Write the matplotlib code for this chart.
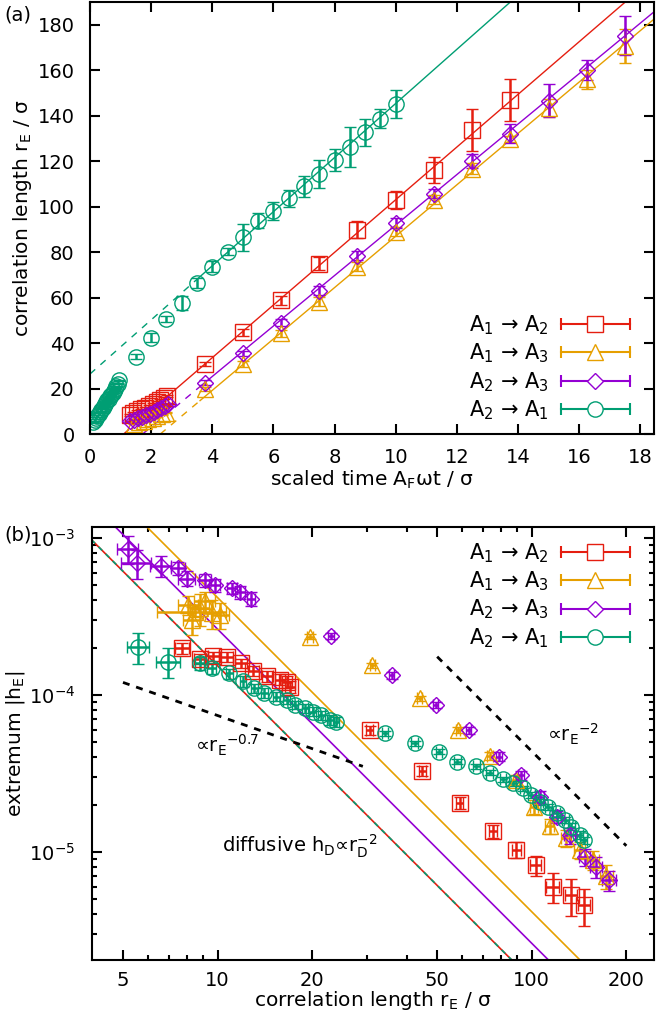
import numpy as np
import matplotlib
matplotlib.use('Agg')
import matplotlib.pyplot as plt
from matplotlib.lines import Line2D
from matplotlib.legend_handler import HandlerBase
from matplotlib.ticker import FixedLocator, FixedFormatter, LogLocator, NullFormatter

plt.rcParams['font.family'] = ['DejaVu Sans']
plt.rcParams['mathtext.default'] = 'regular'
plt.rcParams['axes.unicode_minus'] = False
plt.rcParams['font.size'] = 14
plt.rcParams['axes.linewidth'] = 1.5

RED, ORANGE, PURPLE, GREEN = '#e51e10', '#e69f00', '#9400d3', '#009e73'
labels = ['A$_1$ → A$_2$', 'A$_1$ → A$_3$', 'A$_2$ → A$_3$', 'A$_2$ → A$_1$']
colors = [RED, ORANGE, PURPLE, GREEN]
markers = ['s', '^', 'D', 'o']
msizes = [11, 11, 8, 11]

# --- (a) correlation length vs scaled time ---
t_red = [1.30, 1.42, 1.55, 1.68, 1.80, 1.93, 2.05, 2.18, 2.30, 2.42, 2.52,
         3.75, 5.0, 6.25, 7.5, 8.75, 10.0, 11.25, 12.5, 13.75]
r_red = [8.4, 9.3, 10.0, 10.8, 11.6, 12.3, 13.2, 14.0, 14.8, 15.9, 16.8,
         30.8, 44.8, 58.9, 75.0, 89.9, 103.0, 116.2, 133.8, 146.9]
dr_red = [0.4] * 11 + [1.0, 1.5, 2.0, 3.0, 3.9, 4.0, 5.8, 9.1, 9.1]

t_ora = [1.45, 1.60, 1.75, 1.90, 2.05, 2.20, 2.35, 2.50,
         3.75, 5.0, 6.25, 7.5, 8.75, 10.0, 11.25, 12.5, 13.75, 15.0, 16.25, 17.5]
r_ora = [4.6, 5.2, 5.9, 6.5, 7.2, 7.9, 8.6, 9.4,
         19.7, 30.7, 44.3, 58.2, 73.5, 89.0, 103.0, 116.7, 129.8, 143.4, 156.1, 170.7]
dr_ora = [0.3] * 8 + [1.0, 1.2, 1.5, 2.0, 2.0, 2.0, 2.0, 2.5, 1.5, 3.8, 4.2, 7.3]

t_pur = [1.32, 1.45, 1.58, 1.70, 1.83, 1.96, 2.08, 2.20, 2.32, 2.45, 2.55,
         3.75, 5.0, 6.25, 7.5, 8.75, 10.0, 11.25, 12.5, 13.75, 15.0, 16.25, 17.5]
r_pur = [5.6, 6.3, 7.0, 7.6, 8.3, 9.0, 9.8, 10.6, 11.5, 12.4, 13.4,
         22.6, 35.5, 49.0, 63.0, 78.5, 92.8, 105.7, 120.0, 132.0, 146.6, 160.1, 175.1]
dr_pur = [0.3] * 11 + [1.0, 1.2, 1.5, 2.0, 2.0, 2.0, 2.0, 3.1, 4.2, 7.2, 4.2, 8.6]

t_grn = [0.10, 0.15, 0.19, 0.24, 0.28, 0.32, 0.36, 0.41, 0.45, 0.49, 0.53, 0.57,
         0.61, 0.66, 0.70, 0.74, 0.78, 0.82, 0.86, 0.90, 0.94,
         1.5, 2.0, 2.5, 3.0, 3.5, 4.0, 4.5, 5.0, 5.5, 6.0, 6.5, 7.0, 7.5,
         8.0, 8.5, 9.0, 9.5, 10.0]
r_grn = [5.2, 6.1, 7.0, 7.9, 8.8, 9.6, 10.5, 11.3, 12.2, 13.1, 13.9, 14.8,
         15.6, 16.5, 17.3, 18.2, 19.1, 20.0, 21.0, 22.2, 23.6,
         34.0, 42.4, 50.6, 57.6, 66.5, 73.5, 80.2, 86.5, 93.8, 98.2, 103.6, 109.0, 114.4,
         120.6, 126.2, 132.7, 138.6, 145.2]
dr_grn = [0.3] * 21 + [1.0, 2.0, 1.2, 3.0, 2.2, 2.4, 1.5, 6.0, 3.3, 4.0, 3.6, 4.7, 6.0,
                       4.7, 8.8, 5.8, 4.2, 6.0]

# linear fits r = a + b t, dashed below t_break
fit_a = [-12.74, -25.99, -19.09, 26.4]
fit_b = [11.58, 11.30, 11.10, 11.90]
fit_break = [2.6, 3.6, 3.6, 3.5]

# --- (b) extremum vs correlation length ---
x_red = [7.7, 8.8, 9.7, 10.7, 11.9, 13.0, 14.4, 15.8, 16.6, 17.0,
         30.5, 44.9, 59.0, 75.3, 89.3, 103.0, 116.9, 133.8, 146.4]
h_red = [1.98e-4, 1.70e-4, 1.76e-4, 1.75e-4, 1.59e-4, 1.42e-4, 1.31e-4, 1.25e-4, 1.21e-4, 1.13e-4,
         5.98e-5, 3.28e-5, 2.06e-5, 1.35e-5, 1.03e-5, 8.2e-6, 6.0e-6, 5.3e-6, 4.6e-6]
dx_red = [0.4, 0.4, 0.4, 0.5, 0.5, 0.5, 0.6, 0.6, 0.6, 0.6,
          0.8, 1.2, 1.6, 2.2, 3.0, 4.0, 5.5, 6.0, 6.5]
dh_red = [1.5e-5, 1.2e-5, 1.2e-5, 1.2e-5, 1.1e-5, 1.0e-5, 1.0e-5, 1.0e-5, 1.0e-5, 1.0e-5,
          4.0e-6, 2.5e-6, 1.7e-6, 1.3e-6, 1.2e-6, 1.2e-6, 1.3e-6, 1.4e-6, 1.2e-6]

x_ora = [8.06, 8.27, 8.5, 8.78, 9.11, 9.57, 10.2,
         19.7, 31.1, 44.0, 58.3, 73.5, 89.3, 102.0, 114.0, 128.8, 142.0, 156.7, 172.9]
h_ora = [3.74e-4, 3.0e-4, 3.35e-4, 3.56e-4, 3.93e-4, 3.31e-4, 3.23e-4,
         2.35e-4, 1.54e-4, 9.5e-5, 5.98e-5, 4.1e-5, 2.87e-5, 1.94e-5, 1.46e-5, 1.22e-5, 1.03e-5, 8.9e-6, 7.0e-6]
dx_ora = [0.6, 0.5, 2.1, 0.6, 0.7, 0.6, 0.7,
          0.4, 0.5, 0.8, 1.0, 1.5, 2.0, 3.0, 4.0, 5.0, 6.0, 7.0, 8.0]
dh_ora = [5.0e-5, 6.0e-5, 2.0e-5, 8.0e-5, 6.0e-5, 7.0e-5, 6.0e-5,
          8.0e-6, 6.0e-6, 4.0e-6, 3.0e-6, 2.5e-6, 2.0e-6, 2.0e-6, 1.5e-6, 1.5e-6, 1.3e-6, 1.2e-6, 1.2e-6]

x_pur = [5.19, 5.53, 6.6, 7.5, 7.97, 9.1, 9.8, 11.1, 11.8, 12.8,
         23.0, 35.8, 49.4, 63.0, 78.7, 92.7, 106.0, 120.0, 132.0, 147.5, 160.0, 176.0]
h_pur = [8.5e-4, 6.9e-4, 6.6e-4, 6.4e-4, 5.5e-4, 5.35e-4, 5.0e-4, 4.78e-4, 4.5e-4, 4.1e-4,
         2.38e-4, 1.33e-4, 8.6e-5, 5.95e-5, 4.05e-5, 3.09e-5, 2.25e-5, 1.67e-5, 1.28e-5, 9.3e-6, 8.05e-6, 6.6e-6]
dx_pur = [0.4, 0.6, 0.5, 0.4, 0.5, 0.4, 0.4, 0.4, 0.4, 0.4,
          0.5, 0.6, 0.8, 1.2, 1.5, 2.0, 3.0, 4.0, 5.0, 6.0, 7.0, 9.0]
dh_pur = [1.7e-4, 1.4e-4, 1.0e-4, 6.0e-5, 6.0e-5, 5.0e-5, 5.0e-5, 4.0e-5, 4.0e-5, 4.0e-5,
          1.0e-5, 6.0e-6, 4.0e-6, 3.0e-6, 2.5e-6, 2.0e-6, 2.0e-6, 1.5e-6, 1.5e-6, 1.2e-6, 1.2e-6, 1.0e-6]

x_grn = [5.59, 6.97, 8.78, 9.57, 10.9, 12.06, 13.1, 14.1, 15.4, 16.6, 17.6, 18.95, 20.1, 21.4, 22.8, 23.9,
         34.1, 42.4, 50.7, 58.0, 66.6, 73.5, 81.0, 87.0, 94.0, 99.8, 106.0, 113.0, 120.0, 128.0, 133.8,
         142.0, 146.4]
h_grn = [2.03e-4, 1.63e-4, 1.59e-4, 1.48e-4, 1.37e-4, 1.22e-4, 1.10e-4, 1.03e-4, 9.76e-5, 9.3e-5,
         8.6e-5, 8.2e-5, 7.83e-5, 7.4e-5, 6.93e-5, 6.76e-5,
         5.7e-5, 4.92e-5, 4.35e-5, 3.76e-5, 3.5e-5, 3.2e-5, 2.9e-5, 2.74e-5, 2.54e-5, 2.31e-5,
         2.09e-5, 1.94e-5, 1.76e-5, 1.6e-5, 1.45e-5, 1.28e-5, 1.19e-5]
dx_grn = [0.45, 0.6, 0.3, 0.3, 0.3, 0.3, 0.3, 0.4, 0.4, 0.4, 0.4, 0.4, 0.5, 0.5, 0.5, 0.5,
          0.8, 1.0, 1.2, 1.4, 1.6, 1.8, 2.0, 2.2, 2.4, 2.5, 2.6, 2.8, 3.0, 3.2, 3.3, 3.5, 3.6]
dh_grn = [4.5e-5, 3.5e-5, 1.5e-5, 1.2e-5, 1.0e-5, 9e-6, 8e-6, 7e-6, 6e-6, 6e-6, 5e-6, 5e-6, 5e-6, 5e-6,
          5e-6, 5e-6, 2e-6, 2e-6, 1.6e-6, 1.4e-6, 1.3e-6, 1.2e-6, 1.1e-6, 1.0e-6, 1.0e-6, 9e-7,
          9e-7, 8e-7, 8e-7, 7e-7, 7e-7, 7e-7, 6e-7]

# power-law guides h = C r^p
diff_C = [0.0153, 0.0416, 0.0262]   # red/green, orange, purple
guide1 = (1.2e-4, 5.0, -0.7, 5.0, 29.0)     # amplitude, r_ref, exponent, r_start, r_end
guide2 = (1.75e-4, 50.0, -2.0, 50.0, 200.0)


class ErrHandler(HandlerBase):
    def create_artists(self, legend, orig, xdescent, ydescent, width, height, fontsize, trans):
        y = height / 2 - ydescent
        x0, x1 = -xdescent, width - xdescent
        c = orig.get_color()
        bar = Line2D([x0, x1], [y, y], color=c, lw=1.5)
        caps = Line2D([x0, x1], [y, y], ls='none', marker='|', ms=8, mew=1.5, color=c)
        mk = Line2D([(x0 + x1) / 2], [y], ls='none', marker=orig.get_marker(),
                    ms=orig.get_markersize(), mfc='white', mec=c, mew=1.0)
        for a in (bar, caps, mk):
            a.set_transform(trans)
        return [bar, caps, mk]


def add_legend(ax, **kw):
    proxies = [Line2D([], [], color=c, marker=m, ms=s) for c, m, s in zip(colors, markers, msizes)]
    ax.legend(proxies, labels, handler_map={Line2D: ErrHandler()}, frameon=False,
              markerfirst=False, handlelength=3.3, handletextpad=0.6, labelspacing=0.22,
              fontsize=15, **kw)


fig = plt.figure(figsize=(6.56, 10.27), dpi=100)

# ---------------- panel (a) ----------------
ax1 = fig.add_axes([0.1372, 0.5774, 0.8598, 0.4206])
XMAX = 18.45
for a, b, tb, c in zip(fit_a, fit_b, fit_break, colors):
    t0 = max(0.0, -a / b)
    ax1.plot([t0, tb], [a + b * t0, a + b * tb], color=c, lw=1.0, dashes=(5, 5))
    ax1.plot([tb, XMAX], [a + b * tb, a + b * XMAX], color=c, lw=1.0)

series_a = [(t_red, r_red, dr_red), (t_ora, r_ora, dr_ora), (t_pur, r_pur, dr_pur), (t_grn, r_grn, dr_grn)]
for (t, r, dr), c, m, s in zip(series_a, colors, markers, msizes):
    ax1.errorbar(t, r, yerr=dr, fmt=m, ms=s, mfc='none', mec=c, mew=1.0, color=c,
                 ecolor=c, elinewidth=1.8, capsize=4, capthick=1.8)

ax1.set_xlim(0, XMAX)
ax1.set_ylim(0, 190)
ax1.set_xticks(np.arange(0, 19, 2))
ax1.set_yticks(np.arange(0, 181, 20))
ax1.tick_params(direction='in', top=True, right=True, length=7, width=1.5, labelsize=14)
ax1.tick_params(axis='x', pad=10)
ax1.tick_params(axis='y', pad=11)
ax1.set_xlabel('scaled time A$_F$ωt / σ', fontsize=14.5, labelpad=1)
ax1.set_ylabel('correlation length r$_E$ / σ', fontsize=14.5, labelpad=3)
add_legend(ax1, loc='lower right', bbox_to_anchor=(0.99, -0.015))
fig.text(0.006, 0.985, '(a)', fontsize=14, va='center', ha='left')

# ---------------- panel (b) ----------------
ax2 = fig.add_axes([0.1395, 0.0652, 0.8575, 0.4216])
ax2.set_xscale('log')
ax2.set_yscale('log')
XL = (3.97, 245.0)
rr = np.array(XL)
ax2.plot(rr, diff_C[0] * rr ** -2, color=RED, lw=1.2)
ax2.plot(rr, diff_C[0] * rr ** -2, color=GREEN, lw=1.2, dashes=(3, 3))
ax2.plot(rr, diff_C[2] * rr ** -2, color=PURPLE, lw=1.2)
ax2.plot(rr, diff_C[1] * rr ** -2, color=ORANGE, lw=1.2)
for amp, rref, p, ra, rb in (guide1, guide2):
    g = np.array([ra, rb])
    ax2.plot(g, amp * (g / rref) ** p, color='black', lw=2, dashes=(2.5, 2.5))

series_b = [(x_red, h_red, dx_red, dh_red), (x_ora, h_ora, dx_ora, dh_ora),
            (x_pur, h_pur, dx_pur, dh_pur), (x_grn, h_grn, dx_grn, dh_grn)]
for (x, h, dx, dh), c, m, s in zip(series_b, colors, markers, msizes):
    ax2.errorbar(x, h, xerr=dx, yerr=dh, fmt=m, ms=s, mfc='none', mec=c, mew=1.0, color=c,
                 ecolor=c, elinewidth=1.8, capsize=4, capthick=1.8)

ax2.set_xlim(*XL)
ax2.set_ylim(2.05e-6, 1.17e-3)
ax2.xaxis.set_major_locator(FixedLocator([5, 10, 20, 50, 100, 200]))
ax2.xaxis.set_major_formatter(FixedFormatter(['5', '10', '20', '50', '100', '200']))
ax2.xaxis.set_minor_locator(FixedLocator([6, 7, 8, 9, 30, 40, 60, 70, 80, 90]))
ax2.xaxis.set_minor_formatter(NullFormatter())
ax2.yaxis.set_major_locator(LogLocator(base=10))
ax2.yaxis.set_minor_locator(LogLocator(base=10, subs=np.arange(2, 10)))
ax2.yaxis.set_minor_formatter(NullFormatter())
ax2.tick_params(which='both', direction='in', top=True, right=True, width=1.5, labelsize=14)
ax2.tick_params(which='major', length=7)
ax2.tick_params(which='minor', length=3.6)
ax2.tick_params(axis='x', pad=8)
ax2.tick_params(axis='y', pad=12)
ax2.set_xlabel('correlation length r$_E$ / σ', fontsize=14.5, labelpad=-1)
ax2.set_ylabel('extremum |h$_E$|', fontsize=14.5, labelpad=1)

ax2.text(8.47, 4.8e-5, '∝r$_E{}^{-0.7}$', fontsize=14, ha='left', va='center')
ax2.text(111.6, 5.56e-5, '∝r$_E{}^{-2}$', fontsize=14, ha='left', va='center')
ax2.text(10.3, 1.09e-5, 'diffusive h$_D$∝r$_D^{-2}$', fontsize=14, ha='left', va='center')
add_legend(ax2, loc='upper right', bbox_to_anchor=(0.99, 1.01))
fig.text(0.006, 0.479, '(b)', fontsize=14, va='center', ha='left')

fig.savefig('out.png', dpi=100)
